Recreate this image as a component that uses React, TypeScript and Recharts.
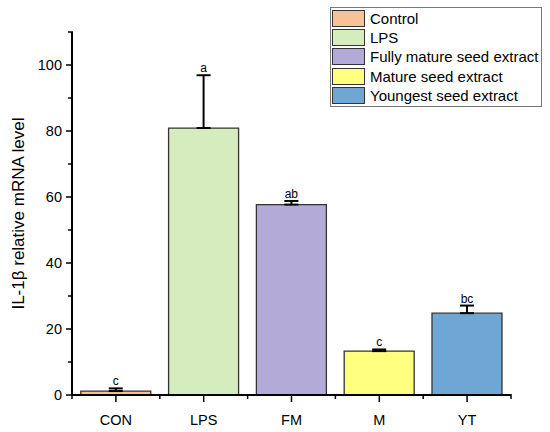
import * as React from "react";
import { Bar, BarChart, Cell, ErrorBar, LabelList, XAxis, YAxis } from "recharts";

const groups = ["CON", "LPS", "FM", "M", "YT"];
const legendNames = [
  "Control",
  "LPS",
  "Fully mature seed extract",
  "Mature seed extract",
  "Youngest seed extract",
];
const means = [1.2, 80.9, 57.7, 13.3, 24.8];
const errors = [0.8, 16.0, 1.1, 0.5, 2.3];
const letters = ["c", "a", "ab", "c", "bc"];
const colors = ["#F8C196", "#D5EDBE", "#B4AAD8", "#FFFF80", "#6FA7D4"];
// minor ticks every 10, labels only on every 20
const yTicks = [0, 10, 20, 30, 40, 50, 60, 70, 80, 90, 100, 110];

const FONT = "Arial, 'Liberation Sans', sans-serif";
const HALF_BAND = 43.9;

const data = groups.map((g, i) => ({
  group: g,
  value: means[i],
  err: [0, errors[i]],
  letter: letters[i],
}));

function LetterLabel(props: any) {
  const { x, y, width, height, index } = props;
  const d = data[index];
  const perUnit = height / d.value;
  const top = y + height - (d.value + errors[index]) * perUnit;
  return (
    <text x={x + width / 2} y={top - 3} textAnchor="middle" fontSize={12} fontFamily={FONT} fill="#000">
      {d.letter}
    </text>
  );
}

function YTick(props: any) {
  const { x, y, payload } = props;
  const major = payload.value % 20 === 0;
  return (
    <g>
      <line x1={x + 1} x2={x + 1 - (major ? 7 : 5)} y1={y} y2={y} stroke="#000" strokeWidth={1.5} />
      {major && (
        <text x={x - 10} y={y} dy={5} textAnchor="end" fontSize={14.5} fontFamily={FONT} fill="#000">
          {payload.value}
        </text>
      )}
    </g>
  );
}

function XTick(props: any) {
  const { x, y, payload, index } = props;
  return (
    <g>
      <line x1={x} x2={x} y1={y - 1} y2={y + 7} stroke="#000" strokeWidth={1.5} />
      <line x1={x + HALF_BAND} x2={x + HALF_BAND} y1={y - 1} y2={y + 4} stroke="#000" strokeWidth={1.5} />
      {index === 0 && (
        <line x1={x - HALF_BAND} x2={x - HALF_BAND} y1={y - 1} y2={y + 4} stroke="#000" strokeWidth={1.5} />
      )}
      <text x={x} y={y + 30} textAnchor="middle" fontSize={14.5} fontFamily={FONT} fill="#000">
        {payload.value}
      </text>
    </g>
  );
}

function YLabel(props: any) {
  const { viewBox } = props;
  const cy = viewBox.y + viewBox.height / 2;
  return (
    <text
      x={24}
      y={cy}
      transform={`rotate(-90, 24, ${cy})`}
      textAnchor="middle"
      fontSize={17}
      fontFamily={FONT}
      fill="#000"
    >
      IL-1β relative mRNA level
    </text>
  );
}

function LegendBox() {
  return (
    <div
      style={{
        position: "absolute",
        left: 330,
        top: 7,
        width: 209,
        border: "1px solid #777",
        background: "#fff",
        padding: "1px 0 1px 1px",
        fontFamily: FONT,
        fontSize: 15,
      }}
    >
      {legendNames.map((n, i) => (
        <div key={n} style={{ display: "flex", alignItems: "center", height: 19.2, whiteSpace: "nowrap" }}>
          <span
            style={{
              display: "inline-block",
              width: 31,
              height: 15,
              background: colors[i],
              border: "1px solid #333",
              marginRight: 5,
              flex: "none",
            }}
          />
          <span>{n}</span>
        </div>
      ))}
    </div>
  );
}

export default function App() {
  return (
    <div style={{ position: "absolute", left: 0, top: 0, width: 550, height: 432, background: "#fff" }}>
      <BarChart
        width={550}
        height={432}
        data={data}
        margin={{ top: 32, right: 39, bottom: 7, left: 0 }}
        barCategoryGap="10%"
      >
        <XAxis
          dataKey="group"
          stroke="#000"
          strokeWidth={2}
          tickLine={false}
          tickSize={0}
          tickMargin={0}
          tick={<XTick />}
          height={30}
        />
        <YAxis
          domain={[0, 110]}
          ticks={yTicks}
          stroke="#000"
          strokeWidth={2}
          tickLine={false}
          tickSize={0}
          tickMargin={0}
          tick={<YTick />}
          width={72}
          label={<YLabel />}
        />
        <Bar dataKey="value" stroke="#333" strokeWidth={1.3} isAnimationActive={false}>
          {data.map((d, i) => (
            <Cell key={d.group} fill={colors[i]} />
          ))}
          <ErrorBar dataKey="err" direction="y" width={7} stroke="#000" strokeWidth={2} />
          <LabelList dataKey="letter" content={LetterLabel} />
        </Bar>
      </BarChart>
      <LegendBox />
    </div>
  );
}
